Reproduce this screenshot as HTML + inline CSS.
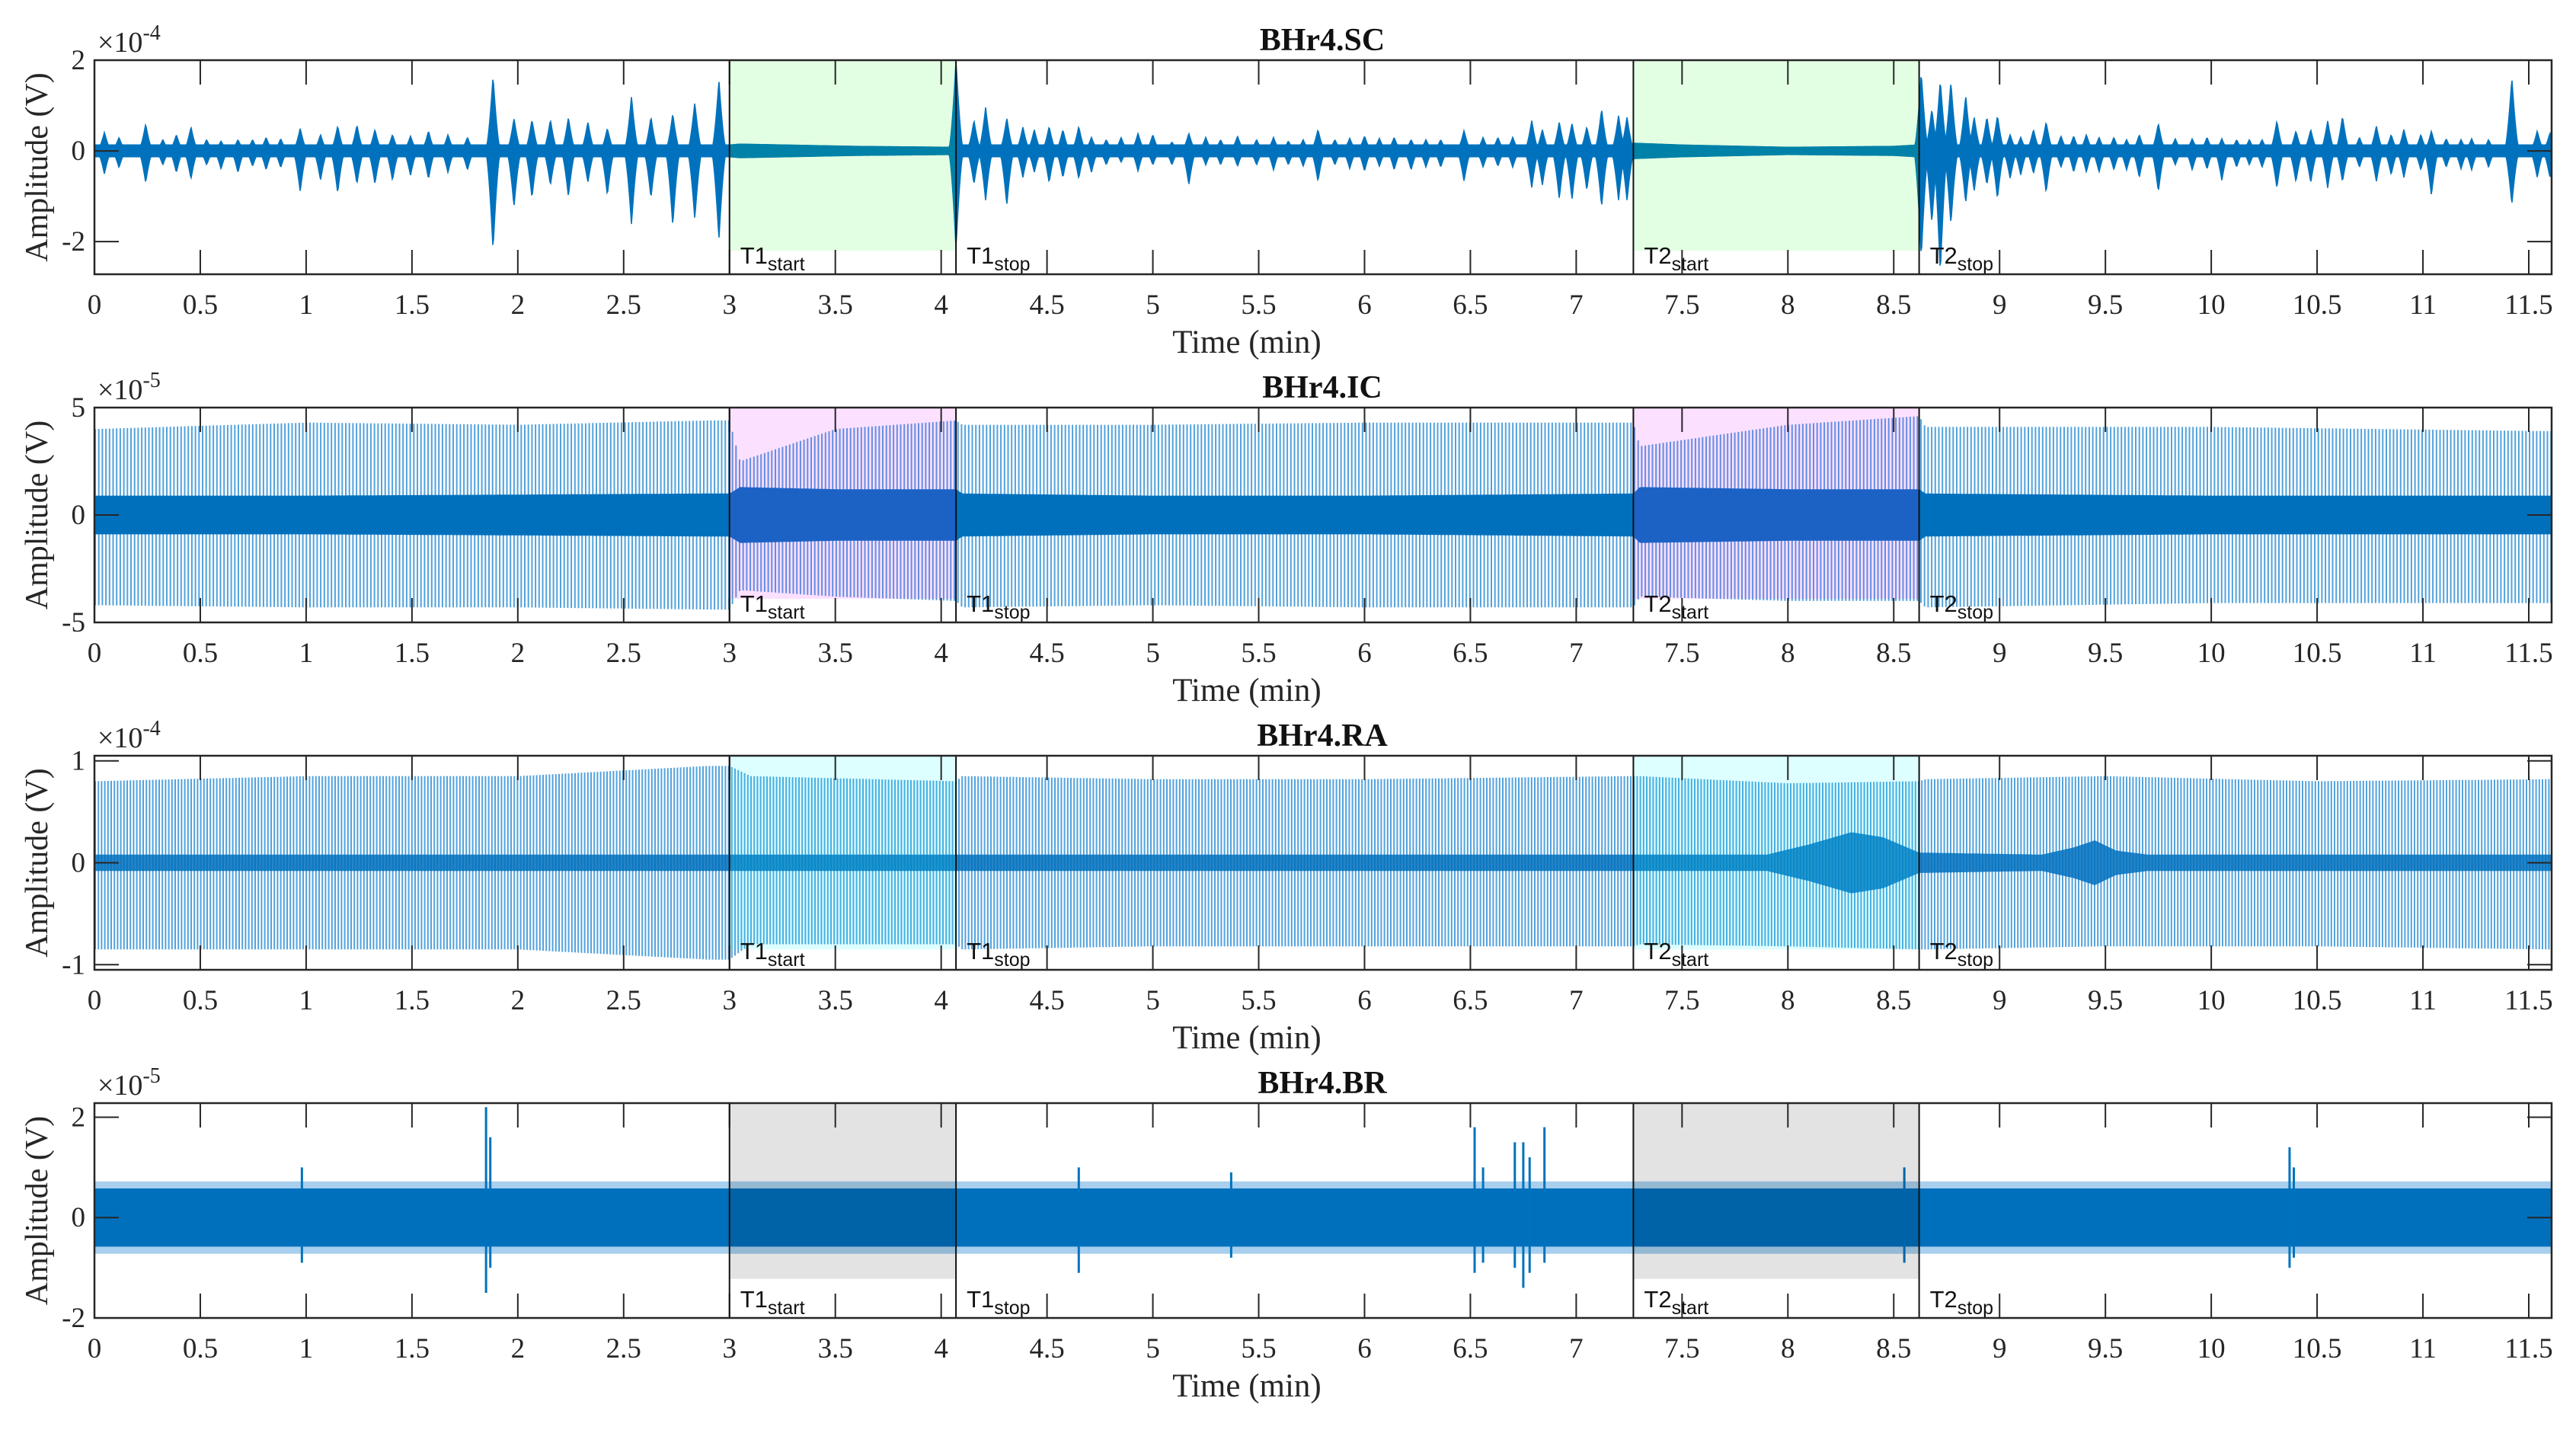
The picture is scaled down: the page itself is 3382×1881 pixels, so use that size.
<!DOCTYPE html>
<html><head><meta charset="utf-8"><title>BHr4 signals</title>
<style>html,body{margin:0;padding:0;background:#fff}svg{display:block}text{font-family:"Liberation Serif",serif;fill:#262626}</style>
</head><body>
<svg id="chart" xmlns="http://www.w3.org/2000/svg" width="3382" height="1881" viewBox="0 0 3382 1881"></svg>
<script>
// ---- data ----
const xTicks=[0,0.5,1,1.5,2,2.5,3,3.5,4,4.5,5,5.5,6,6.5,7,7.5,8,8.5,9,9.5,10,10.5,11,11.5];
const xTickLabels=["0","0.5","1","1.5","2","2.5","3","3.5","4","4.5","5","5.5","6","6.5","7","7.5","8","8.5","9","9.5","10","10.5","11","11.5"];
const markerTimes=[3.0,4.07,7.27,8.62];
const markerLabels=["T1","T1","T2","T2"];
const markerSubs=["start","stop","start","stop"];
const panelTitles=["BHr4.SC","BHr4.IC","BHr4.RA","BHr4.BR"];
const panelExponents=["-4","-5","-4","-5"];
const yTickSC=[-2,0,2], yTickIC=[-5,0,5], yTickRA=[-1,0,1], yTickBR=[-2,0,2];
// SC bursts (x1e-4)
const scBurstT=[0.047,0.116,0.242,0.323,0.387,0.456,0.53,0.598,0.678,0.747,0.811,0.88,0.972,1.068,1.149,1.24,1.325,1.408,1.493,1.578,1.67,1.762,1.883,1.982,2.067,2.154,2.239,2.331,2.423,2.537,2.629,2.732,2.836,2.95,
4.07,4.155,4.21,4.31,4.386,4.44,4.51,4.575,4.65,4.71,4.78,4.85,4.93,5.0,5.09,5.17,5.25,5.32,5.4,5.49,5.57,5.64,5.71,5.78,5.86,5.93,6.0,6.07,6.14,6.22,6.29,6.36,6.47,6.56,6.63,6.7,6.79,6.84,6.92,6.98,7.05,7.12,7.2,7.24,
8.63,8.68,8.72,8.77,8.84,8.88,8.94,8.99,9.05,9.1,9.16,9.22,9.29,9.35,9.41,9.47,9.54,9.6,9.66,9.75,9.83,9.91,9.98,10.05,10.12,10.18,10.24,10.31,10.4,10.47,10.55,10.62,10.7,10.78,10.85,10.91,10.99,11.04,11.11,11.18,11.23,11.31,11.42,11.54,11.6];
const scBurstUp=[0.41,0.3,0.59,0.25,0.36,0.53,0.25,0.22,0.25,0.25,0.3,0.27,0.5,0.36,0.55,0.57,0.47,0.36,0.33,0.44,0.36,0.3,1.65,0.72,0.69,0.69,0.74,0.64,0.5,1.2,0.75,0.82,1.07,1.56,
2.0,0.67,0.96,0.73,0.53,0.47,0.54,0.47,0.54,0.3,0.25,0.3,0.39,0.36,0.2,0.39,0.3,0.25,0.33,0.25,0.3,0.22,0.25,0.47,0.25,0.28,0.33,0.28,0.3,0.25,0.25,0.25,0.45,0.3,0.3,0.3,0.67,0.47,0.64,0.61,0.53,0.92,0.78,0.75,
1.73,0.92,1.56,1.53,1.23,0.75,0.75,0.78,0.36,0.3,0.47,0.64,0.33,0.33,0.36,0.3,0.3,0.25,0.36,0.61,0.27,0.27,0.3,0.27,0.25,0.25,0.25,0.66,0.44,0.47,0.66,0.76,0.3,0.55,0.36,0.47,0.36,0.44,0.27,0.25,0.27,0.25,1.61,0.44,0.4];
const scBurstDown=[-0.51,-0.37,-0.7,-0.31,-0.48,-0.62,-0.31,-0.4,-0.48,-0.34,-0.42,-0.37,-0.9,-0.65,-0.93,-0.73,-0.73,-0.65,-0.54,-0.62,-0.48,-0.42,-2.18,-1.23,-1.04,-0.76,-1.01,-0.7,-0.98,-1.63,-1.04,-1.65,-1.51,-1.96,
-2.15,-0.73,-1.09,-1.2,-0.59,-0.47,-0.7,-0.59,-0.61,-0.47,-0.31,-0.25,-0.45,-0.31,-0.31,-0.75,-0.31,-0.31,-0.34,-0.31,-0.42,-0.31,-0.34,-0.67,-0.31,-0.39,-0.45,-0.34,-0.42,-0.42,-0.36,-0.36,-0.67,-0.36,-0.34,-0.36,-0.81,-0.76,-1.06,-1.08,-0.87,-1.23,-1.09,-1.1,
-2.35,-1.59,-2.7,-1.62,-1.15,-0.89,-0.75,-1.06,-0.61,-0.53,-0.5,-0.92,-0.36,-0.47,-0.47,-0.47,-0.42,-0.42,-0.59,-0.9,-0.31,-0.42,-0.4,-0.65,-0.36,-0.31,-0.36,-0.82,-0.68,-0.7,-0.82,-0.68,-0.36,-0.68,-0.53,-0.59,-0.42,-0.98,-0.36,-0.4,-0.42,-0.36,-1.18,-0.59,-0.59];
const scBaseT=[0,3.0,3.05,3.6,4.06,4.07,7.26,7.27,7.5,8.0,8.5,8.61,8.62,11.61];
const scBase=[0.13,0.13,0.15,0.1,0.08,0.13,0.13,0.17,0.13,0.08,0.1,0.13,0.13,0.13];
// IC (x1e-5)
const icT=[0,1,2,2.9,3.0,3.05,3.5,4.07,4.1,5,6,7.27,7.3,8.0,8.62,8.65,10,11.61];
const icUp=[4.0,4.3,4.2,4.4,4.4,2.5,4.0,4.4,4.2,4.2,4.3,4.3,3.2,4.2,4.6,4.1,4.1,3.9];
const icDown=[-4.2,-4.3,-4.3,-4.4,-4.4,-3.5,-3.8,-4.0,-4.3,-4.2,-4.3,-4.3,-3.8,-4.0,-4.0,-4.3,-4.1,-4.1];
const icCore=[0.9,0.9,0.95,1.0,1.0,1.3,1.2,1.2,1.0,0.9,0.9,1.0,1.3,1.2,1.2,1.0,0.9,0.9];
// RA (x1e-4)
const raT=[0,1,2,2.9,3.0,3.1,4.07,4.1,5,6,7.27,7.3,8.0,8.62,8.65,9.5,10.5,11.61];
const raUp=[0.8,0.85,0.85,0.95,0.95,0.85,0.8,0.85,0.82,0.82,0.85,0.85,0.78,0.8,0.82,0.85,0.8,0.82];
const raDown=[-0.85,-0.85,-0.85,-0.95,-0.95,-0.8,-0.8,-0.85,-0.82,-0.82,-0.82,-0.8,-0.82,-0.85,-0.85,-0.82,-0.82,-0.85];
const raCoreT=[0,7.9,8.1,8.3,8.45,8.62,9.2,9.35,9.45,9.55,9.7,11.61];
const raCore=[0.08,0.08,0.18,0.3,0.25,0.1,0.08,0.15,0.22,0.12,0.08,0.08];
// BR (x1e-5)
const brBandT=[0,11.61];
const brBand=[0.58,0.58];
const brEdge=[0.72,0.72];
const brSpikeT=[0.98,1.85,1.87,4.65,5.37,6.52,6.56,6.71,6.75,6.78,6.85,8.55,10.37,10.39];
const brSpikeUp=[1.0,2.2,1.6,1.0,0.9,1.8,1.0,1.5,1.5,1.2,1.8,1.0,1.4,1.0];
const brSpikeDown=[-0.9,-1.5,-1.0,-1.1,-0.8,-1.1,-0.9,-1.0,-1.4,-1.1,-0.9,-0.9,-1.0,-0.8];

// ---- layout ----
const NS="http://www.w3.org/2000/svg";
const svg=document.getElementById('chart');
const X0=124,X1=3350;
const sx=t=>X0+t*(3320-124)/11.5;
const SERIF='"Liberation Serif", serif';
const panels=[
 {top:79,bottom:360,ymin:-2.72,ymax:2,ticks:yTickSC,shadeBottom:-2.2,shade:'rgba(0,255,0,0.11)'},
 {top:535,bottom:817,ymin:-5,ymax:5,ticks:yTickIC,shadeBottom:-3.9,shade:'rgba(230,0,255,0.12)'},
 {top:992,bottom:1273,ymin:-1.05,ymax:1.05,ticks:yTickRA,shadeBottom:-0.85,shade:'rgba(0,255,255,0.13)'},
 {top:1448,bottom:1730,ymin:-2,ymax:2.28,ticks:yTickBR,shadeBottom:-1.22,shade:'rgba(0,0,0,0.11)'}
];
function mk(tag,attrs,parent){const e=document.createElementNS(NS,tag);for(const k in attrs)e.setAttribute(k,attrs[k]);(parent||svg).appendChild(e);return e;}
function interp(ts,vs,t){if(t<=ts[0])return vs[0];for(let i=1;i<ts.length;i++){if(t<=ts[i]){const f=(t-ts[i-1])/(ts[i]-ts[i-1]);return vs[i-1]+f*(vs[i]-vs[i-1]);}}return vs[vs.length-1];}
function bandPath(sy,upF,downF,step){let up=[],dn=[];for(let x=X0;x<=X1;x+=step){const t=(x-X0)/(3320-124)*11.5;up.push(x.toFixed(1)+','+sy(upF(t)).toFixed(1));dn.push(x.toFixed(1)+','+sy(downF(t)).toFixed(1));}return 'M'+up.join('L')+'L'+dn.reverse().join('L')+'Z';}

panels.forEach((p,i)=>{
 const g=mk('g',{});
 
 
 const sy=v=>p.bottom-(v-p.ymin)/(p.ymax-p.ymin)*(p.bottom-p.top);
 const clip=mk('clipPath',{id:'clip'+i},g);mk('rect',{x:X0,y:p.top,width:X1-X0,height:p.bottom-p.top},clip);
 const dg=mk('g',{'clip-path':'url(#clip'+i+')'},g);
 
 
 if(i===0){
  const W=0.036;
  const env=(t,sign)=>{let v=interp(scBaseT,scBase,t)*sign;for(let k=0;k<scBurstT.length;k++){const d=Math.abs(t-scBurstT[k]);if(d<W){const a=(sign>0?scBurstUp[k]:scBurstDown[k])*Math.pow(1-d/W,1.6);if(sign>0?a>v:a<v)v=a;}}return v;};
  const path=mk('path',{d:bandPath(sy,t=>env(t,1),t=>env(t,-1),1),fill:'#0072bd',stroke:'#0072bd','stroke-width':1.5},dg);
  
  
 } else if(i===1||i===2){
  const T=i===1?icT:raT, U=i===1?icUp:raUp, D=i===1?icDown:raDown;
  const CT=i===1?icT:raCoreT, C=i===1?icCore:raCore;
  const pitch=i===1?4.7:4.2;
  let d='';
  for(let x=X0+1;x<X1;x+=pitch){const t=(x-X0)/(3320-124)*11.5;d+='M'+x.toFixed(1)+','+sy(interp(T,U,t)).toFixed(1)+'V'+sy(interp(T,D,t)).toFixed(1);}
  const sp=mk('path',{d:d,stroke:'#3f98d8','stroke-width':2,fill:'none','stroke-opacity':0.9},dg);
  
  
  const core=mk('path',{d:bandPath(sy,t=>interp(CT,C,t),t=>-interp(CT,C,t),2),fill:'#0070bd','fill-opacity':i===2?0.85:1},dg);
  
  
 } else {
  const edge=mk('path',{d:bandPath(sy,t=>interp(brBandT,brEdge,t),t=>-interp(brBandT,brEdge,t),2),fill:'#3d95d6','fill-opacity':0.45},dg);
  
  
  const core=mk('path',{d:bandPath(sy,t=>interp(brBandT,brBand,t),t=>-interp(brBandT,brBand,t),2),fill:'#0070bd'},dg);
  
  
  brSpikeT.forEach((t,k)=>{const l=mk('line',{x1:sx(t),x2:sx(t),y1:sy(brSpikeUp[k]),y2:sy(brSpikeDown[k]),stroke:'#0072bd','stroke-width':3},dg);
   
   });
 }
 [[0,1],[2,3]].forEach(([a,b],k)=>{const r=mk('rect',{x:sx(markerTimes[a]),y:p.top,width:sx(markerTimes[b])-sx(markerTimes[a]),height:sy(p.shadeBottom)-p.top,fill:p.shade},g);
  
  });
 xTicks.forEach(t=>{const x=sx(t);mk('line',{x1:x,x2:x,y1:p.top,y2:p.top+32,stroke:'#262626','stroke-width':2},g);mk('line',{x1:x,x2:x,y1:p.bottom,y2:p.bottom-32,stroke:'#262626','stroke-width':2},g);});
 p.ticks.forEach(v=>{const y=sy(v);mk('line',{x1:X0,x2:X0+32,y1:y,y2:y,stroke:'#262626','stroke-width':2},g);mk('line',{x1:X1,x2:X1-32,y1:y,y2:y,stroke:'#262626','stroke-width':2},g);
  const tl=mk('text',{x:112,y:y+12,'font-size':37,'text-anchor':'end','font-family':SERIF},g);tl.textContent=String(v);
  
  });
 markerTimes.forEach((t,k)=>{mk('line',{x1:sx(t),x2:sx(t),y1:p.top,y2:p.bottom,stroke:'#111','stroke-width':2},g);
  const tx=mk('text',{x:sx(t)+14,y:p.bottom-14,'font-size':31,style:'font-family:"Liberation Sans",sans-serif;fill:#111'},g);
  
  
  tx.textContent=markerLabels[k];
  const ts=mk('tspan',{dy:9,'font-size':25},tx);ts.textContent=markerSubs[k];});
 mk('rect',{x:X0,y:p.top,width:X1-X0,height:p.bottom-p.top,fill:'none',stroke:'#262626','stroke-width':2.5},g);
 xTicks.forEach((t,k)=>{const tl=mk('text',{x:sx(t),y:p.bottom+52,'font-size':37,'text-anchor':'middle','font-family':SERIF},g);tl.textContent=xTickLabels[k];
  
  });
 const xl=mk('text',{x:1637,y:p.bottom+103,'font-size':43,'text-anchor':'middle','font-family':SERIF},g);xl.textContent='Time (min)';
 
 
 const ti=mk('text',{x:1736,y:p.top-13,'font-size':42,'font-weight':'bold','text-anchor':'middle','font-family':SERIF,style:'fill:#111'},g);ti.textContent=panelTitles[i];
 
 
 const ex=mk('text',{x:128,y:p.top-11,'font-size':38,'font-family':SERIF},g);ex.textContent='\u00d710';
 
 
 const es=mk('tspan',{dy:-16,'font-size':28},ex);es.textContent=panelExponents[i];
 const cy=(p.top+p.bottom)/2;
 const yl=mk('text',{x:0,y:0,'font-size':42,'text-anchor':'middle','font-family':SERIF,transform:'translate(62,'+cy+') rotate(-90)'},g);yl.textContent='Amplitude (V)';
 
 
});
</script>
</body></html>
